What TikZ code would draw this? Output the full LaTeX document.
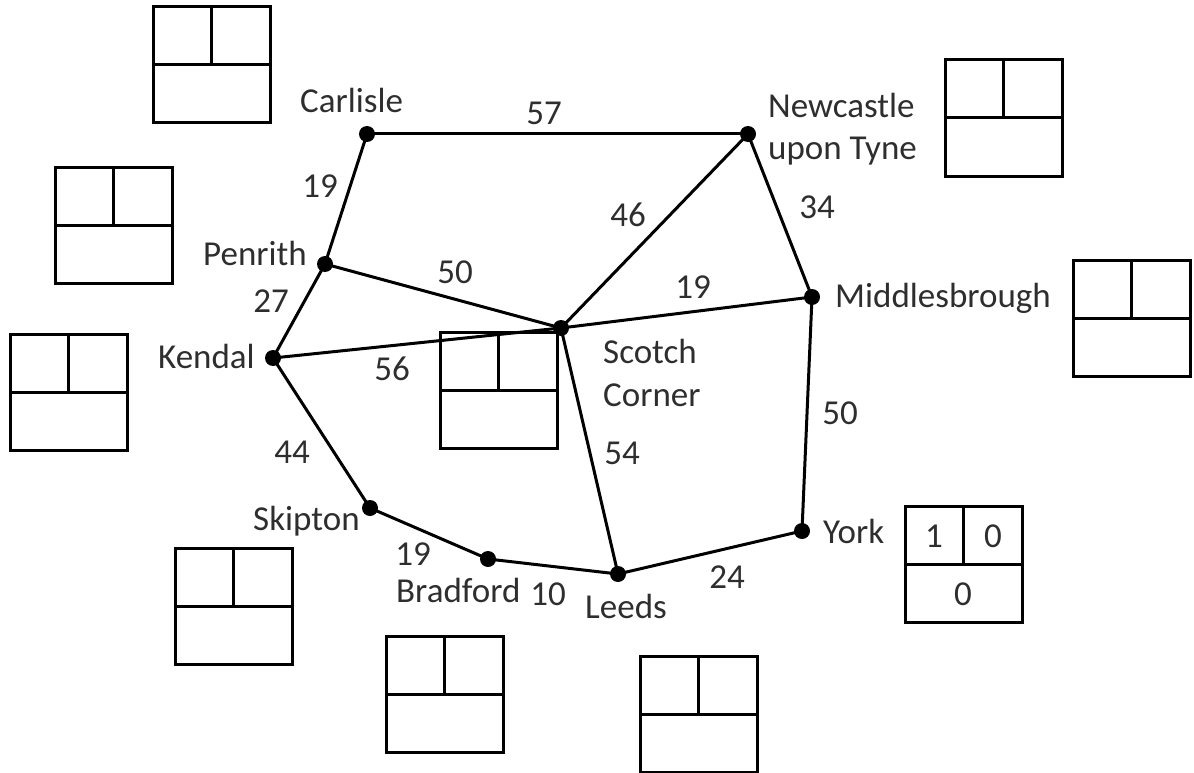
\documentclass[tikz,border=0pt]{standalone}
\usepackage{fontspec}
\setmainfont{Carlito}
\begin{document}
\begin{tikzpicture}[x=1pt,y=-1pt,
  dot/.style={circle,fill=black,inner sep=0pt,minimum size=16pt},
  edge/.style={line width=3pt,black},
  boxline/.style={line width=3pt,black},
  lbl/.style={inner sep=0pt,text=black!82,font=\fontsize{35}{43}\selectfont},
  num/.style={lbl,anchor=center},
  city/.style={lbl,anchor=base west,align=left}]
\useasboundingbox (0,0) rectangle (1194,773);
% towns
\node[dot] (carlisle) at (367,134) {};
\node[dot] (newcastle) at (748,134) {};
\node[dot] (penrith) at (325,264) {};
\node[dot] (middles) at (812,297) {};
\node[dot] (scotch) at (561,328) {};
\node[dot] (kendal) at (273,358) {};
\node[dot] (skipton) at (370,508) {};
\node[dot] (bradford) at (488,559) {};
\node[dot] (leeds) at (618,574) {};
\node[dot] (york) at (802,531) {};
% roads
\draw[edge] (carlisle.center) -- (newcastle.center);
\draw[edge] (carlisle.center) -- (penrith.center);
\draw[edge] (newcastle.center) -- (middles.center);
\draw[edge] (newcastle.center) -- (scotch.center);
\draw[edge] (penrith.center) -- (scotch.center);
\draw[edge] (penrith.center) -- (kendal.center);
\draw[edge] (kendal.center) -- (scotch.center);
\draw[edge] (scotch.center) -- (middles.center);
\draw[edge] (scotch.center) -- (leeds.center);
\draw[edge] (middles.center) -- (york.center);
\draw[edge] (kendal.center) -- (skipton.center);
\draw[edge] (skipton.center) -- (bradford.center);
\draw[edge] (bradford.center) -- (leeds.center);
\draw[edge] (leeds.center) -- (york.center);
% town names
\node[city] (tcarlisle) at (300,113) {Carlisle};
\node[city] (tnewcastle) at (768,118) {Newcastle};
\node[city] (tupon) at (768,160) {upon Tyne};
\node[city] (tpenrith) at (203,265) {Penrith};
\node[city] (tmiddles) at (835,307) {Middlesbrough};
\node[city] (tkendal) at (158,368) {Kendal};
\node[city] (tscotch) at (603,363) {Scotch};
\node[city] (tcorner) at (603,406) {Corner};
\node[city] (tskipton) at (253,530) {Skipton};
\node[city] (tbradford) at (396,602) {Bradford};
\node[city] (tleeds) at (585,618) {Leeds};
\node[city] (tyork) at (823,543) {York};
% distances
\node[num] (d1) at (544,113) {57};
\node[num] (d2) at (320,186) {19};
\node[num] (d3) at (628,215) {46};
\node[num] (d4) at (817,207) {34};
\node[num] (d5) at (455,272) {50};
\node[num] (d6) at (693,287) {19};
\node[num] (d7) at (271,301) {27};
\node[num] (d8) at (392,369) {56};
\node[num] (d9) at (840,413) {50};
\node[num] (d10) at (292,452) {44};
\node[num] (d11) at (622,453) {54};
\node[num] (d12) at (413,554) {19};
\node[num] (d13) at (548,594) {10};
\node[num] (d14) at (727,577) {24};
% boxes
\foreach \bx/\by in {153/7,55/167,10/334,440/332,945/60,1073/260,905/506,175/548,386/636,640/656}{
  \draw[boxline] (\bx,\by) rectangle ++(117,116);
  \draw[boxline] (\bx,\by+58) -- ++(117,0);
  \draw[boxline] (\bx+58.5,\by) -- ++(0,58);
}
\node[num] (y1) at (934,536) {1};
\node[num] (y2) at (993,536) {0};
\node[num] (y3) at (963,594) {0};
\end{tikzpicture}
\end{document}
